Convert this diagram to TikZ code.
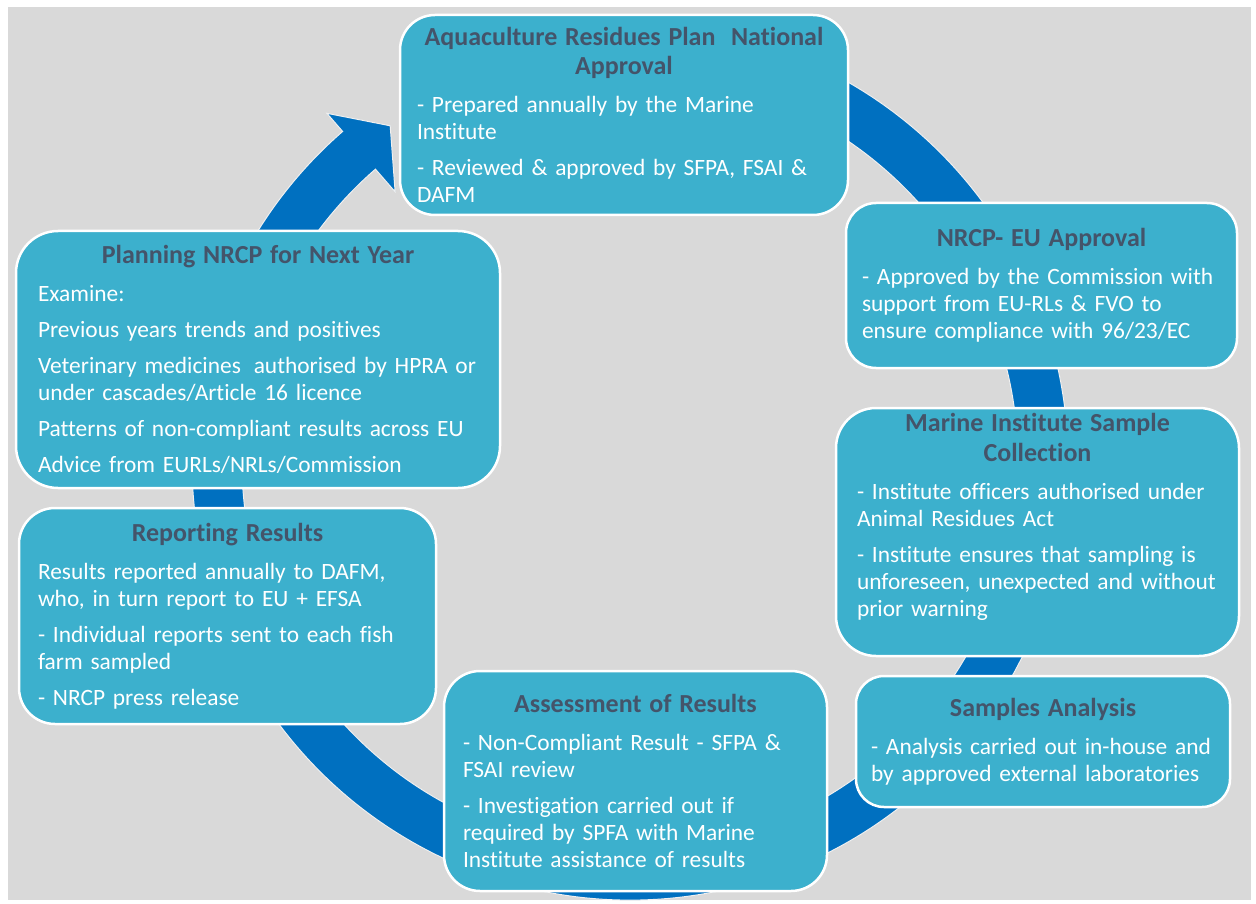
\documentclass[tikz,border=0pt]{standalone}
\usepackage{fontspec}
\setmainfont{Carlito}[Ligatures={NoCommon}]
\definecolor{bggrey}{RGB}{217,217,217}
\definecolor{ringblue}{RGB}{0,112,192}
\definecolor{boxblue}{RGB}{60,176,205}
\definecolor{slate}{RGB}{68,84,106}
\newcommand{\boxhead}[1]{{\centering\fontsize{26}{29.5}\selectfont\bfseries\color{slate}#1\par}\setlength{\parskip}{9pt}\vspace{2pt}}

\begin{document}
\begin{tikzpicture}[x=1pt, y=-1pt,
    main/.style = {draw=white, line width=2.5pt, fill=boxblue, text=white, align=left, inner ysep=4pt, font=\fontsize{23.4}{27}\selectfont},
    ring/.style = {fill=ringblue, draw=white!88!gray, line width=1pt}]
    \useasboundingbox (0,0) rectangle (1256,904);
    \fill[white] (0,0) rectangle (1256,904);
    \fill[bggrey] (8,7) rectangle (1251,900);
    \begin{scope}[shift={(630,462)}]
        \filldraw[ring] (250:438) arc[start angle=250, end angle=589, radius=438] -- (589:462) -- (594.5:413) -- (589:358) -- (589:388) arc[start angle=589, end angle=250, radius=388] -- cycle;
    \end{scope}
    \node[main, rounded corners=35, minimum width=448, minimum height=200, inner xsep=17, text width=414] (1) at (624,115) {\boxhead{Aquaculture Residues Plan\ \ National\\ Approval}- Prepared annually by the Marine\\ Institute\par - Reviewed \& approved by SFPA, FSAI \&\\ DAFM};
    \node[main, rounded corners=30, minimum width=391, minimum height=165, inner xsep=16, text width=359] (2) at (1041.5,285.5) {\boxhead{NRCP- EU Approval}- Approved by the Commission with\\ support from EU-RLs \& FVO to\\ ensure compliance with 96/23/EC};
    \node[main, rounded corners=40, minimum width=403, minimum height=248, inner xsep=21, text width=361] (3) at (1037.5,532) {\boxhead{Marine Institute Sample\\ Collection}- Institute officers authorised under\\ Animal Residues Act\par - Institute ensures that sampling is\\ unforeseen, unexpected and without\\ prior warning\par\vspace*{30pt}};
    \node[main, rounded corners=28, minimum width=374, minimum height=131, inner xsep=15, text width=344] (4) at (1043,741.5) {\boxhead{Samples Analysis}- Analysis carried out in-house and\\ by approved external laboratories};
    \node[main, rounded corners=36, minimum width=383, minimum height=220, inner xsep=19, text width=345] (5) at (635.5,781) {\boxhead{Assessment of Results}- Non-Compliant Result - SFPA \&\\ FSAI review\par - Investigation carried out if\\ required by SPFA with Marine\\ Institute assistance of results};
    \node[main, rounded corners=36, minimum width=417, minimum height=216, inner xsep=19, text width=379] (6) at (227.5,616) {\boxhead{Reporting Results}Results reported annually to DAFM,\\ who, in turn report to EU + EFSA\par - Individual reports sent to each fish\\ farm sampled\par - NRCP press release};
    \node[main, rounded corners=42, minimum width=484, minimum height=257, inner xsep=22, text width=440] (7) at (258,359.5) {\boxhead{Planning NRCP for Next Year}Examine:\par Previous years trends and positives\par \mbox{Veterinary medicines\hspace{0.55em}authorised by HPRA or}\\ under cascades/Article 16 licence\par Patterns of non-compliant results across EU\par Advice from EURLs/NRLs/Commission};
\end{tikzpicture}
\end{document}
